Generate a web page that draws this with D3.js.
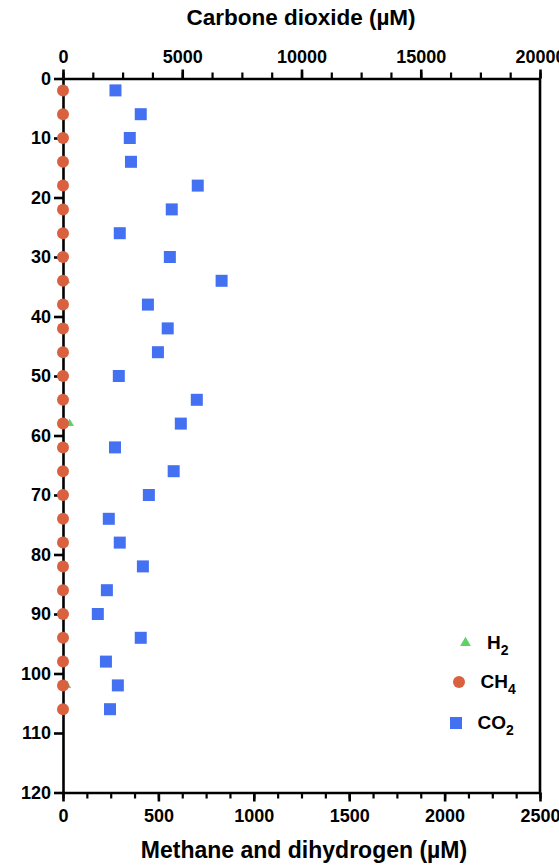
<!DOCTYPE html>
<html>
<head>
<meta charset="utf-8">
<script src="https://cdn.jsdelivr.net/npm/d3@7"></script>
<style>
  body { margin: 0; background: #fff; }
  svg { display: block; font-family: "Liberation Sans", Arial, sans-serif; }
</style>
</head>
<body>
<div id="chart"></div>
<script>
// depth profile: CO2 on top axis, CH4 + H2 on bottom axis
const depths = [2, 6, 10, 14, 18, 22, 26, 30, 34, 38, 42, 46, 50, 54, 58, 62, 66, 70, 74, 78, 82, 86, 90, 94, 98, 102, 106];
const co2 = [2200, 3260, 2800, 2850, 5650, 4560, 2380, 4480, 6650, 3560, 4390, 3980, 2340, 5610, 4940, 2180, 4640, 3600, 1920, 2380, 3350, 1840, 1460, 3260, 1800, 2300, 1970];
const ch4 = [0, 0, 0, 0, 0, 0, 0, 0, 0, 0, 0, 0, 0, 0, 0, 0, 0, 0, 0, 0, 0, 0, 0, 0, 0, 0, 0];
const h2 = [2, 2, 2, 2, 2, 3, 2, 3, 15, 3, 2, 2, 3, 4, 35, 3, 4, 2, 4, 3, 2, 3, 4, 2, 2, 20, 2];

const co2Ticks = [0, 5000, 10000, 15000, 20000];
const gasTicks = [0, 500, 1000, 1500, 2000, 2500];
const depthTicks = [0, 10, 20, 30, 40, 50, 60, 70, 80, 90, 100, 110, 120];

const W = 559, H = 866;
const margin = {top: 78.5, right: 19, bottom: 73.5, left: 63};
const width = W - margin.left - margin.right;
const height = H - margin.top - margin.bottom;

const svg = d3.select('#chart').append('svg')
    .attr('width', W)
    .attr('height', H);

const g = svg.append('g')
    .attr('transform', `translate(${margin.left},${margin.top})`);

const xTop = d3.scaleLinear().domain([0, 20000]).range([0, width]);
const xBot = d3.scaleLinear().domain([0, 2500]).range([0, width]);
const y = d3.scaleLinear().domain([0, 120]).range([0, height]);

const green = '#5CD166', orange = '#DA6140', blue = '#4470F2';

// right frame line
g.append('line')
    .attr('x1', width).attr('x2', width)
    .attr('y1', 0).attr('y2', height)
    .attr('stroke', '#000').attr('stroke-width', 2.6);

// minor ticks
g.append('g')
    .call(d3.axisTop(xTop).tickValues(d3.range(0, 20001, 1250)).tickSize(6).tickFormat(''))
    .call(a => a.selectAll('line').attr('stroke-width', 2.2))
    .call(a => a.select('.domain').remove());
g.append('g')
    .attr('transform', `translate(0,${height})`)
    .call(d3.axisBottom(xBot).tickValues(d3.range(0, 2501, 125)).tickSize(6).tickFormat(''))
    .call(a => a.selectAll('line').attr('stroke-width', 2.2))
    .call(a => a.select('.domain').remove());

function styleAxis(a) {
    a.select('.domain').attr('stroke-width', 2.6);
    a.selectAll('line').attr('stroke-width', 2.6);
    a.selectAll('text')
        .style('font-size', '18px')
        .style('font-weight', 'bold')
        .attr('fill', '#000');
}

const fmt = d3.format('d');

g.append('g')
    .call(d3.axisTop(xTop).tickValues(co2Ticks).tickFormat(fmt).tickSize(9).tickSizeOuter(0).tickPadding(7))
    .call(styleAxis);

g.append('g')
    .attr('transform', `translate(0,${height})`)
    .call(d3.axisBottom(xBot).tickValues(gasTicks).tickFormat(fmt).tickSize(9).tickSizeOuter(0).tickPadding(8))
    .call(styleAxis);

g.append('g')
    .call(d3.axisLeft(y).tickValues(depthTicks).tickFormat(fmt).tickSize(9).tickSizeOuter(0).tickPadding(3))
    .call(styleAxis);

// H2 triangles (behind)
const tri = d3.symbol().type(d3.symbolTriangle).size(32);
g.selectAll('.h2')
    .data(depths.map((d, i) => ({d, v: h2[i]})))
    .enter().append('path')
    .attr('class', 'h2')
    .attr('d', tri)
    .attr('transform', p => `translate(${xBot(p.v)},${y(p.d)})`)
    .attr('fill', green);

// CH4 circles
g.selectAll('.ch4')
    .data(depths.map((d, i) => ({d, v: ch4[i]})))
    .enter().append('circle')
    .attr('class', 'ch4')
    .attr('cx', p => xBot(p.v))
    .attr('cy', p => y(p.d))
    .attr('r', 6)
    .attr('fill', orange);

// CO2 squares
const sq = 12;
g.selectAll('.co2')
    .data(depths.map((d, i) => ({d, v: co2[i]})))
    .enter().append('rect')
    .attr('class', 'co2')
    .attr('x', p => xTop(p.v) - sq / 2)
    .attr('y', p => y(p.d) - sq / 2)
    .attr('width', sq)
    .attr('height', sq)
    .attr('fill', blue);

// axis titles
svg.append('text')
    .attr('x', 301).attr('y', 25)
    .attr('text-anchor', 'middle')
    .style('font-size', '22.5px').style('font-weight', 'bold')
    .text('Carbone dioxide (µM)');

svg.append('text')
    .attr('x', 304).attr('y', 858)
    .attr('text-anchor', 'middle')
    .style('font-size', '23px').style('font-weight', 'bold')
    .text('Methane and dihydrogen (µM)');

// legend
const legend = svg.append('g');
const items = [
    {name: 'H', sub: '2', y: 643, tx: 487, kind: 'tri', color: green},
    {name: 'CH', sub: '4', y: 682, tx: 480.5, kind: 'circle', color: orange},
    {name: 'CO', sub: '2', y: 723, tx: 477.5, kind: 'sq', color: blue}
];
items.forEach(it => {
    if (it.kind === 'tri') {
        legend.append('path').attr('d', d3.symbol().type(d3.symbolTriangle).size(50))
            .attr('transform', `translate(465.5,${it.y})`).attr('fill', it.color);
    } else if (it.kind === 'circle') {
        legend.append('circle').attr('cx', 459).attr('cy', it.y).attr('r', 6).attr('fill', it.color);
    } else {
        legend.append('rect').attr('x', 450).attr('y', it.y - 6).attr('width', 12).attr('height', 12).attr('fill', it.color);
    }
    const t = legend.append('text')
        .attr('x', it.tx).attr('y', it.y + 6)
        .style('font-size', '19px').style('font-weight', 'bold');
    t.append('tspan').text(it.name);
    t.append('tspan').attr('dy', 6).style('font-size', '14px').text(it.sub);
});
</script>
</body>
</html>
